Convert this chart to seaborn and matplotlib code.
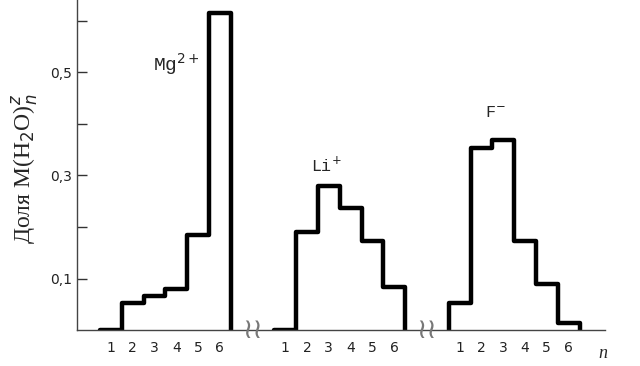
import numpy as np
import seaborn as sns
import matplotlib.pyplot as plt
from matplotlib.ticker import FixedLocator

# hydrate size n and fractions
n = [1, 2, 3, 4, 5, 6]
mg = [0.0, 0.052, 0.066, 0.080, 0.185, 0.615]
li = [0.0, 0.190, 0.279, 0.236, 0.173, 0.083]
f = [0.052, 0.354, 0.368, 0.173, 0.090, 0.014]
ions = ["Mg$^{2+}$", "Li$^{+}$", "F$^{-}$"]
offsets = [0, 8, 16]
label_pos = [(4.0, 0.515, 14), (2.9, 0.32, 12), (2.65, 0.42, 12)]

sns.set_style("white")
plt.rcParams["font.family"] = ["DejaVu Sans"]

fig = plt.figure(figsize=(6.4, 3.66), dpi=100)
ax = fig.add_axes([0.12, 0.098, 0.825, 0.902])

for vals, off, ion, (lx, ly, fs) in zip([mg, li, f], offsets, ions, label_pos):
    edges = np.array(n, dtype=float) - 0.5 + off
    xs = np.concatenate([[edges[0]], edges, [edges[-1] + 1]])
    ys = np.concatenate([[0.0], vals, [0.0]])
    sns.lineplot(x=xs, y=ys, estimator=None, sort=False, drawstyle="steps-post",
                 color="black", lw=3.2, ax=ax)
    ax.text(lx + off, ly, ion, fontsize=fs, ha="center", va="center",
            family="Liberation Mono")

ax.set_xlim(-0.56, 23.66)
ax.set_ylim(0, 0.64)

xt = [v + off for off in offsets for v in n]
ax.set_xticks(xt)
ax.set_xticklabels([str(v) for off in offsets for v in n], fontsize=10, color="#222222")
ax.tick_params(axis="x", length=0, pad=8)

ax.yaxis.set_major_locator(FixedLocator([0.1, 0.3, 0.5]))
ax.yaxis.set_minor_locator(FixedLocator([0.2, 0.4, 0.6]))
ax.set_yticklabels(["0,1", "0,3", "0,5"], fontsize=10, color="#222222")
ax.tick_params(axis="y", which="both", direction="in", length=7, width=1,
               color="#333333", left=True)

for side in ["top", "right"]:
    ax.spines[side].set_visible(False)
for side in ["left", "bottom"]:
    ax.spines[side].set_color("#444444")
    ax.spines[side].set_linewidth(1)

# axis break marks between groups
for xb in [7.5, 15.5]:
    ax.text(xb, 0, "\u2240\u2240", fontsize=20, ha="center", va="center",
            color="#777777")

ax.text(23.55, -0.045, "n", fontsize=13, style="italic", ha="center", va="center",
        family="Liberation Serif", clip_on=False)

ax.set_ylabel("Доля M(H$_2$O)$_n^z$", fontsize=17, family="Liberation Serif")
ax.yaxis.set_label_coords(-0.07, 0.49)

fig.savefig("out.png", dpi=100)
